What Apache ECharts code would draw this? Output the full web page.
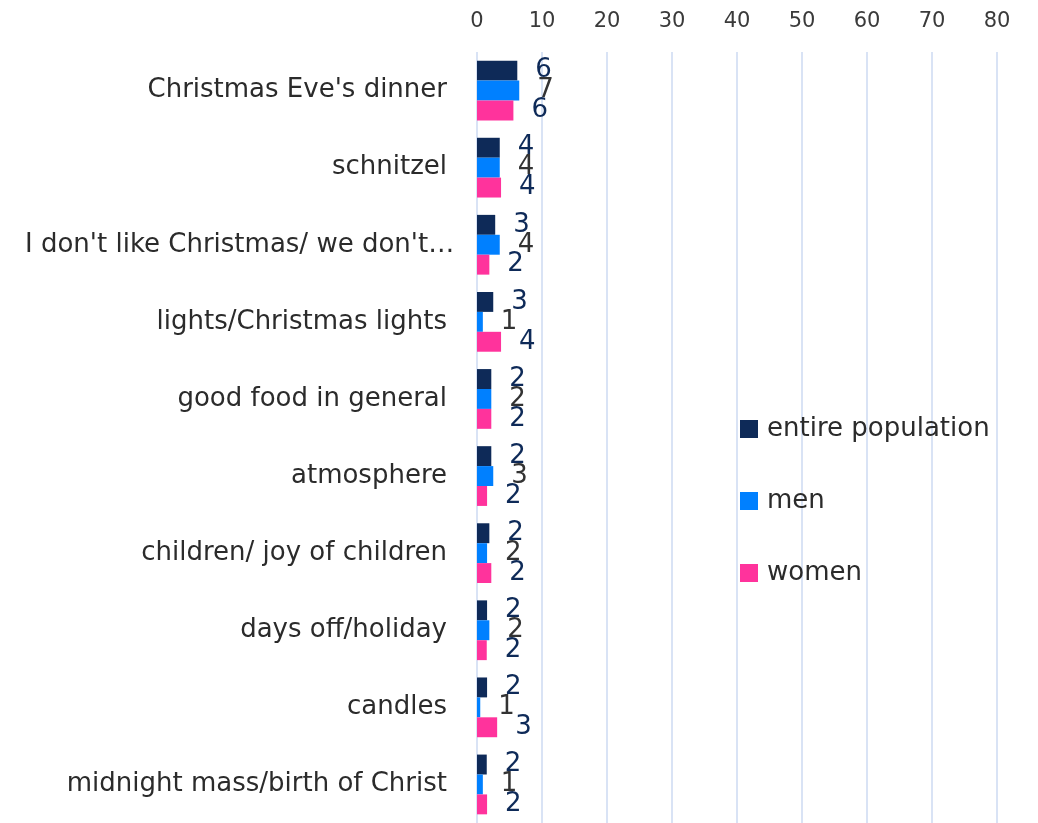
<!DOCTYPE html>
<html>
<head>
<meta charset="utf-8">
<script src="https://cdn.jsdelivr.net/npm/echarts@6/dist/echarts.min.js"></script>
<style>
  html, body { margin: 0; padding: 0; background: #fff; }
  #chart { width: 1038px; height: 823px; }
</style>
</head>
<body>
<div id="chart"></div>
<script>
const categories = [
  "Christmas Eve's dinner",
  "schnitzel",
  "I don't like Christmas/ we don't…",
  "lights/Christmas lights",
  "good food in general",
  "atmosphere",
  "children/ joy of children",
  "days off/holiday",
  "candles",
  "midnight mass/birth of Christ"
];
const entirePopulation = [6.2, 3.5, 2.8, 2.5, 2.2, 2.2, 1.9, 1.55, 1.55, 1.5];
const men = [6.5, 3.5, 3.5, 0.9, 2.2, 2.5, 1.55, 1.9, 0.5, 0.9];
const women = [5.6, 3.7, 1.9, 3.7, 2.2, 1.55, 2.2, 1.5, 3.1, 1.55];
const xTicks = { min: 0, max: 80, interval: 10 };

const labelFont = 'DejaVu Sans';
const chart = echarts.init(document.getElementById('chart'));

function barSeries(name, data, color, labelColor) {
  return {
    name: name,
    type: 'bar',
    data: data,
    barGap: '0%',
    barCategoryGap: '22.5%',
    itemStyle: { color: color },
    label: {
      show: true,
      position: 'right',
      distance: 18,
      fontFamily: labelFont,
      fontSize: 26,
      color: labelColor,
      formatter: p => Math.round(p.value)
    }
  };
}

const option = {
  animation: false,
  backgroundColor: '#fff',
  grid: { left: 477, right: 41, top: 52, bottom: -4, containLabel: false },
  xAxis: {
    type: 'value',
    position: 'top',
    min: xTicks.min,
    max: xTicks.max,
    interval: xTicks.interval,
    axisLine: { show: false },
    axisTick: { show: false },
    axisLabel: { fontFamily: labelFont, fontSize: 21, color: '#3a3a3a', margin: 20 },
    splitLine: { lineStyle: { color: '#d9e3f5', width: 2 } }
  },
  yAxis: {
    type: 'category',
    inverse: true,
    data: categories,
    axisLine: { show: false },
    axisTick: { show: false },
    axisLabel: {
      fontFamily: labelFont, fontSize: 26, color: '#2b2b2b', margin: 30,
      // the truncated label hangs past the others in the original
      formatter: v => v.endsWith('…') ? '{t|' + v + '}' : v,
      rich: { t: { fontFamily: labelFont, fontSize: 26, color: '#2b2b2b', width: 422, align: 'left' } }
    }
  },
  legend: {
    orient: 'vertical',
    left: 735,
    top: 411,
    itemWidth: 18,
    itemHeight: 18,
    itemGap: 46,
    icon: 'rect',
    textStyle: { fontFamily: labelFont, fontSize: 26, lineHeight: 26, color: '#2b2b2b', padding: [0, 0, 0, 4] },
    data: ['entire population', 'men', 'women']
  },
  series: [
    barSeries('entire population', entirePopulation, '#0e2a58', '#0e2a58'),
    barSeries('men', men, '#0080ff', '#333333'),
    barSeries('women', women, '#ff339c', '#0e2a58')
  ]
};

chart.setOption(option);
</script>
</body>
</html>
